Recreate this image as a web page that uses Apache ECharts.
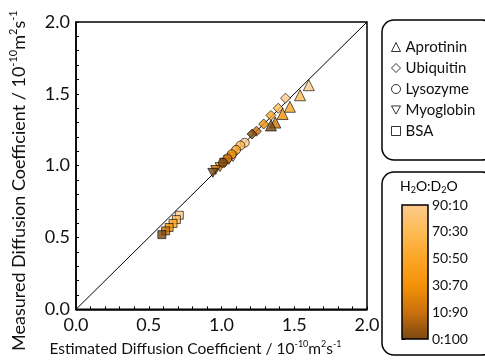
<!DOCTYPE html>
<html>
<head>
<meta charset="utf-8">
<script src="https://cdn.jsdelivr.net/npm/echarts@6/dist/echarts.min.js"></script>
<style>html,body{margin:0;padding:0;background:#fff}#c{width:485px;height:362px}</style>
</head>
<body>
<div id="c"></div>
<script>
// H2O:D2O ratios (index used by every point) and their colours
const ratios = ['90:10', '70:30', '50:50', '30:70', '10:90', '0:100'];
const ratioColors = ['#FDCB8C', '#FDBB55', '#FCA526', '#F39208', '#C8700E', '#7A4710'];

// [estimated, measured] per ratio (same order as ratios)
const aprotinin = [[1.60, 1.56], [1.54, 1.49], [1.47, 1.41], [1.42, 1.36], [1.37, 1.30], [1.34, 1.28]];
const ubiquitin = [[1.44, 1.47], [1.39, 1.40], [1.34, 1.35], [1.29, 1.29], [1.24, 1.24], [1.21, 1.22]];
const lysozyme  = [[1.16, 1.16], [1.13, 1.14], [1.10, 1.11], [1.07, 1.08], [1.04, 1.05], [1.01, 1.02]];
const myoglobin = [[1.08, 1.06], [1.05, 1.04], [1.02, 1.02], [0.99, 0.99], [0.96, 0.97], [0.94, 0.95]];
const bsa       = [[0.71, 0.655], [0.69, 0.625], [0.667, 0.598], [0.64, 0.57], [0.616, 0.546], [0.59, 0.52]];

const identityLine = [[0, 0], [2, 2]];

const FONT = 'Lato';
const downTri = 'path://M0,0 L10,0 L5,9 Z';

function mk(name, data, symbol, size) {
  return {
    name: name,
    type: 'scatter',
    symbol: symbol,
    symbolSize: size,
    z: 3,
    data: data.map((p, i) => ({ value: [p[0], p[1], i], itemStyle: { color: ratioColors[i] } })),
    itemStyle: { borderColor: '#000', borderWidth: 0.8 }
  };
}

function supRich(fs) {
  return {
    b: { fontFamily: FONT, fontSize: fs, color: '#111', lineHeight: fs + 4 },
    s: { fontFamily: FONT, fontSize: Math.round(fs * 0.6), color: '#111', verticalAlign: 'top', lineHeight: fs + 4 }
  };
}

const chart = echarts.init(document.getElementById('c'), null, { renderer: 'canvas' });
chart.setOption({
  animation: false,
  textStyle: { fontFamily: FONT },
  grid: [
    { left: 75, top: 22, width: 292, height: 292, show: true, borderColor: '#000', borderWidth: 1.5, backgroundColor: 'transparent' },
    { left: 402, top: 205, width: 26, height: 134 }
  ],
  xAxis: [
    {
      type: 'value', min: 0, max: 2, interval: 0.5, gridIndex: 0,
      axisLine: { lineStyle: { color: '#000', width: 1.5 } },
      axisTick: { inside: true, length: 3, lineStyle: { color: '#000' } },
      minorTick: { show: true, splitNumber: 5, length: 3, lineStyle: { color: '#000' } },
      splitLine: { show: false },
      axisLabel: { fontSize: 18, color: '#111', fontFamily: FONT, margin: 7, formatter: v => v.toFixed(1) },
      name: '{b|Estimated Diffusion Coefficient / 10}{s|-10}{b|m}{s|2}{b|s}{s|-1}',
      nameLocation: 'middle', nameGap: 29,
      nameTextStyle: { rich: supRich(15.5), padding: [0, 52, 0, 0] }
    },
    { type: 'value', gridIndex: 1, show: false, min: 0, max: 1 }
  ],
  yAxis: [
    {
      type: 'value', min: 0, max: 2, interval: 0.5, gridIndex: 0,
      axisLine: { lineStyle: { color: '#000', width: 1.5 } },
      axisTick: { inside: true, length: 3, lineStyle: { color: '#000' } },
      minorTick: { show: true, splitNumber: 5, length: 3, lineStyle: { color: '#000' } },
      splitLine: { show: false },
      axisLabel: { fontSize: 18, color: '#111', fontFamily: FONT, margin: 6, formatter: v => v.toFixed(1) },
      name: '{b|Measured Diffusion Coefficient / 10}{s|-10}{b|m}{s|2}{b|s}{s|-1}',
      nameLocation: 'middle', nameGap: 46, nameRotate: 90,
      nameTextStyle: { rich: supRich(18), padding: [0, 30, 0, 0] }
    },
    {
      type: 'category', gridIndex: 1, position: 'right', boundaryGap: false,
      data: ratios.slice().reverse(),
      axisLine: { show: false },
      axisTick: { show: true, length: 3, lineStyle: { color: '#000' } },
      axisLabel: { fontSize: 14, color: '#111', fontFamily: FONT, margin: 4 },
      splitLine: { show: false }
    }
  ],
  legend: {
    orient: 'vertical', left: 386, top: 34, itemGap: 5,
    itemWidth: 9, itemHeight: 9,
    data: ['Aprotinin', 'Ubiquitin', 'Lysozyme', 'Myoglobin', 'BSA'],
    itemStyle: { color: '#fff', borderColor: '#000', borderWidth: 1 },
    textStyle: { fontSize: 15, color: '#111', fontFamily: FONT, padding: [0, 0, 0, 0], lineHeight: 16 },
    selectedMode: false
  },
  graphic: [
    { type: 'rect', shape: { x: 382, y: 20, width: 112, height: 140, r: 12 }, style: { fill: 'none', stroke: '#000', lineWidth: 1.5 }, silent: true },
    { type: 'rect', shape: { x: 382, y: 172, width: 112, height: 183, r: 12 }, style: { fill: 'none', stroke: '#000', lineWidth: 1.5 }, silent: true },
    {
      type: 'rect', z: 10, shape: { x: 402, y: 205, width: 26, height: 134 },
      style: {
        stroke: '#000', lineWidth: 1.5,
        fill: new echarts.graphic.LinearGradient(0, 0, 0, 1, ratioColors.map((c, i) => ({ offset: i / (ratioColors.length - 1), color: c })))
      }, silent: true
    },
    {
      type: 'text', left: 400, top: 179, z: 10,
      style: {
        text: '{b|H}{u|2}{b|O:D}{u|2}{b|O}',
        rich: {
          b: { fontFamily: FONT, fontSize: 14, color: '#111', lineHeight: 17 },
          u: { fontFamily: FONT, fontSize: 9, color: '#111', verticalAlign: 'bottom', lineHeight: 17 }
        }
      }
    }
  ],
  series: [
    { type: 'line', data: identityLine, symbol: 'none', z: 2, lineStyle: { color: '#000', width: 1 }, silent: true },
    mk('Myoglobin', myoglobin, downTri, [10, 9]),
    mk('BSA', bsa, 'rect', 8),
    mk('Lysozyme', lysozyme, 'circle', 9),
    mk('Ubiquitin', ubiquitin, 'diamond', 10),
    mk('Aprotinin', aprotinin, 'triangle', 11)
  ]
});
</script>
</body>
</html>
